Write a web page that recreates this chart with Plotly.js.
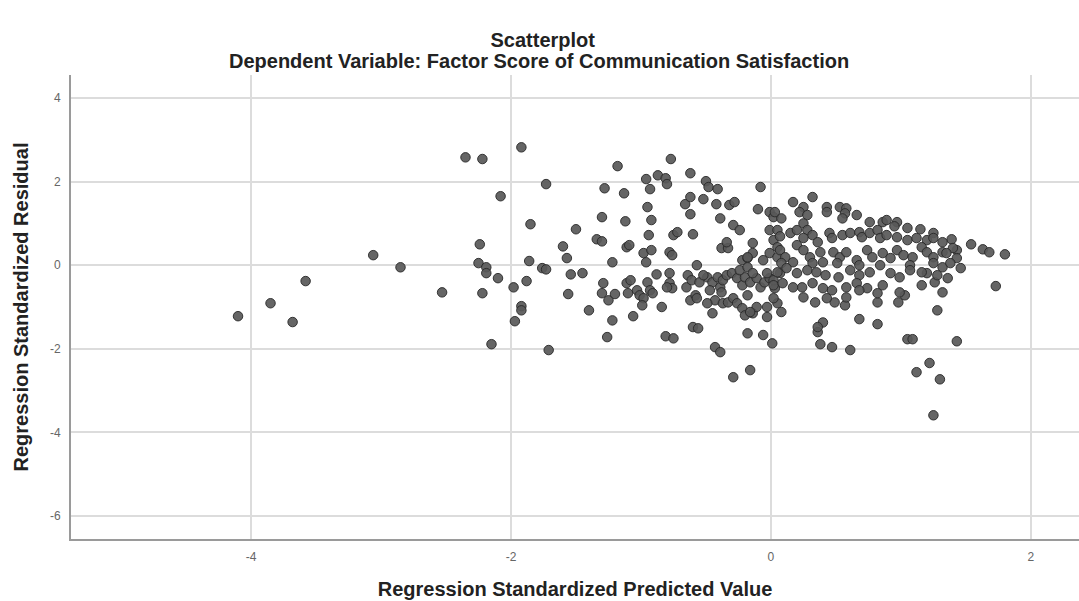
<!DOCTYPE html>
<html>
<head>
<meta charset="utf-8">
<script src="https://cdn.plot.ly/plotly-3.0.1.min.js"></script>
<style>html,body{margin:0;padding:0;background:#fff;}#chart{width:1079px;height:601px;}</style>
</head>
<body>
<div id="chart"></div>
<script>
// Regression standardized predicted value (x) and standardized residual (y)
const predicted = [
-4.10,-3.85,-3.68,-3.58,-3.06,-2.85,-2.53,-2.35,-2.22,-2.08,-2.24,-2.25,-2.19,-2.19,-2.10,-2.22,-2.15,-1.92,-1.73,-1.85,
-1.98,-1.88,-1.86,-1.76,-1.73,-1.92,-1.92,-1.97,-1.71,-1.60,-1.57,-1.50,-1.54,-1.45,-1.56,-1.40,-1.34,-1.30,-1.30,-1.28,
-1.18,-1.13,-1.12,-1.11,-1.09,-1.22,-1.29,-1.30,-1.25,-1.20,-1.22,-1.26,-1.11,-1.08,-1.10,-1.06,-1.03,-1.01,-0.98,-0.99,
-0.95,-0.93,-0.91,-0.88,-0.96,-0.93,-0.87,-0.95,-0.92,-0.94,-0.98,-0.92,-0.96,-0.84,-0.81,-0.75,-0.81,-0.80,-0.77,-0.78,
-0.76,-0.75,-0.72,-0.78,-0.78,-0.76,-0.80,-0.62,-0.66,-0.62,-0.62,-0.60,-0.57,-0.64,-0.65,-0.62,-0.58,-0.60,-0.56,-0.50,
-0.48,-0.41,-0.52,-0.42,-0.32,-0.28,-0.39,-0.29,-0.24,-0.38,-0.33,-0.34,-0.49,-0.45,-0.47,-0.39,-0.43,-0.38,-0.45,-0.43,
-0.39,-0.29,-0.16,-0.18,-0.06,0.01,-0.08,-0.10,-0.01,0.02,-0.61,-0.55,-0.52,-0.41,-0.37,-0.34,-0.30,-0.26,-0.22,-0.20,
-0.16,-0.11,-0.08,-0.05,-0.01,0.03,-0.57,-0.49,-0.37,-0.33,-0.29,-0.26,-0.22,-0.18,-0.14,-0.20,-0.22,-0.18,-0.06,-0.24,
-0.03,-0.03,-0.14,-0.14,-0.01,0.02,0.05,-0.18,-0.01,0.05,-0.18,-0.14,-0.03,0.02,0.07,-0.11,-0.16,0.17,0.32,0.25,
0.22,0.28,0.43,0.43,0.53,0.58,0.57,0.66,0.55,0.08,0.03,0.76,0.86,0.89,0.97,0.95,1.05,1.15,1.25,1.39,
1.43,1.54,1.63,1.68,1.80,1.73,1.46,1.32,1.36,1.32,1.28,1.43,1.05,1.09,1.22,1.12,1.30,1.25,0.68,0.82,
0.40,0.36,0.38,0.47,0.61,0.05,0.08,0.34,0.49,0.57,0.58,0.25,0.24,0.82,0.82,0.98,1.03,0.99,1.16,1.26,
1.20,0.05,0.07,0.15,0.20,0.25,0.28,0.32,0.25,0.36,0.45,0.47,0.55,0.61,0.68,0.70,0.76,0.82,0.84,0.89,
0.97,1.05,1.12,1.20,1.25,1.32,1.16,0.07,0.11,0.20,0.25,0.30,0.38,0.48,0.53,0.58,0.66,0.74,0.78,0.86,
0.92,0.97,1.02,1.09,1.20,1.25,1.32,1.40,1.43,1.38,1.25,0.08,0.17,0.32,0.40,0.51,0.68,0.84,1.07,0.05,
0.12,0.20,0.28,0.35,0.42,0.52,0.61,0.68,0.76,0.92,0.99,1.07,1.16,1.28,0.02,0.09,0.17,0.32,0.40,0.47,
0.58,0.66,0.74,0.86,0.02,0.43,0.68,0.36,1.35
];
const residual = [
-1.22,-0.91,-1.36,-0.38,0.24,-0.05,-0.65,2.58,2.54,1.65,0.50,0.05,-0.05,-0.19,-0.31,-0.67,-1.89,2.82,1.94,0.98,
-0.53,-0.38,0.10,-0.07,-0.10,-0.98,-1.08,-1.34,-2.03,0.45,0.17,0.86,-0.22,-0.19,-0.69,-1.08,0.62,0.57,1.15,1.84,
2.37,1.72,1.05,0.43,0.48,0.07,-0.43,-0.67,-0.84,-0.69,-1.32,-1.72,-0.43,-0.36,-0.67,-1.22,-0.60,-0.72,-0.79,-0.96,
-0.41,-0.60,-0.67,-0.22,2.06,1.82,2.15,1.39,1.08,0.72,0.29,0.36,0.07,-1.00,-1.70,-1.75,2.08,1.94,2.54,0.31,
0.24,0.72,0.79,-0.19,-0.43,-0.55,-0.53,2.20,1.46,1.63,1.22,0.74,0.00,-0.24,-0.53,-0.84,-0.72,-1.48,-1.51,2.01,
1.87,1.82,1.58,1.46,1.44,1.51,1.12,0.96,0.84,0.41,0.41,0.55,-0.29,-0.41,-0.60,-0.53,-0.84,-0.65,-1.15,-1.96,
-2.08,-2.68,-2.51,-1.63,-1.67,-1.87,1.87,1.34,1.27,1.15,-0.36,-0.41,-0.24,-0.29,-0.36,-0.24,-0.19,-0.31,-0.48,-0.29,
-0.41,-0.31,-0.53,-0.41,-0.31,-0.55,-0.79,-0.91,-0.91,-0.89,-0.79,-0.91,-1.03,-0.72,-1.15,-1.20,0.12,0.17,0.12,-0.12,
-1.00,-1.24,0.53,0.29,0.84,0.60,0.43,0.19,0.29,0.19,-0.05,-0.19,-0.19,-0.36,-0.19,-1.00,-1.12,1.51,1.63,1.39,
1.27,1.20,1.39,1.27,1.39,1.36,1.24,1.20,1.12,1.12,1.27,1.03,1.03,1.08,1.03,0.93,0.89,0.86,0.77,0.62,
0.36,0.50,0.38,0.31,0.26,-0.50,-0.07,-0.05,-0.31,-0.65,-1.08,-1.82,-1.77,-1.77,-2.34,-2.56,-2.73,-3.59,-1.29,-1.41,
-1.37,-1.60,-1.89,-1.96,-2.03,-0.91,-1.12,-0.89,-0.89,-0.96,-0.77,-0.77,-0.53,-0.89,-0.67,-0.89,-0.72,-0.65,-0.48,-0.41,
-0.19,0.84,0.69,0.77,0.84,1.00,0.84,0.72,0.65,0.55,0.77,0.65,0.72,0.77,0.79,0.67,0.77,0.84,0.65,0.72,
0.67,0.60,0.65,0.60,0.65,0.55,0.43,0.36,0.19,0.48,0.36,0.19,0.31,0.31,0.19,0.31,0.12,0.36,0.19,0.29,
0.17,0.36,0.24,0.19,0.31,0.19,0.31,0.41,0.17,0.05,0.05,0.05,0.07,0.05,0.07,0.05,0.00,0.00,0.00,-0.17,
-0.07,-0.19,-0.12,-0.17,-0.24,-0.29,-0.12,-0.24,-0.17,-0.19,-0.29,-0.12,-0.17,-0.24,-0.48,-0.43,-0.53,-0.43,-0.55,-0.60,
-0.53,-0.43,-0.55,-0.48,-0.79,-0.79,-0.60,-1.48,0.29
];
const xTickVals = [-4, -2, 0, 2];
const xTickText = ["-4", "-2", "0", "2"];
const yTickVals = [4, 2, 0, -2, -4, -6];
const yTickText = ["4", "2", "0", "-2", "-4", "-6"];

const trace = {
  x: predicted, y: residual, type: 'scatter', mode: 'markers',
  marker: {size: 9.5, color: 'rgba(88,88,88,0.92)', line: {color: 'rgba(40,40,40,0.9)', width: 1}},
  hoverinfo: 'x+y'
};
const font = 'Liberation Sans, Arial, sans-serif';
const titleSize = 20;
const layout = {
  width: 1079, height: 601,
  margin: {l: 71, r: 0, t: 75, b: 62},
  paper_bgcolor: '#fff', plot_bgcolor: '#fff',
  showlegend: false,
  title: {
    text: '<b>Scatterplot</b>',
    x: 0.503, xref: 'container', xanchor: 'center', y: 1 - 40 / 601, yref: 'container', yanchor: 'middle',
    font: {family: font, size: titleSize, color: '#222'}
  },
  annotations: [{
    text: '<b>Dependent Variable: Factor Score of Communication Satisfaction</b>',
    xref: 'paper', yref: 'paper', x: (539 - 71) / 1008, y: (539 - 61) / 464, xanchor: 'center', yanchor: 'middle',
    showarrow: false, font: {family: font, size: titleSize, color: '#222'}
  }],
  xaxis: {
    range: [-5.385, 2.37], tickvals: xTickVals, ticktext: xTickText,
    showline: true, linecolor: '#9a9a9a', linewidth: 2,
    showgrid: true, gridcolor: '#dcdcdc', gridwidth: 2, zeroline: false,
    ticks: '', ticklabelstandoff: 6,
    tickfont: {family: font, size: 12, color: '#666'},
    title: {text: '<b>Regression Standardized Predicted Value</b>', standoff: 19,
            font: {family: font, size: titleSize, color: '#222'}}
  },
  yaxis: {
    range: [-6.55, 4.55], tickvals: yTickVals, ticktext: yTickText,
    showline: true, linecolor: '#9a9a9a', linewidth: 2,
    showgrid: true, gridcolor: '#dcdcdc', gridwidth: 2, zeroline: false,
    ticks: '', ticklabelstandoff: 6,
    tickfont: {family: font, size: 12, color: '#666'},
    title: {text: '<b>Regression Standardized Residual</b>', standoff: 16,
            font: {family: font, size: titleSize, color: '#222'}}
  }
};
Plotly.newPlot('chart', [trace], layout, {displayModeBar: false, staticPlot: true});
</script>
</body>
</html>
